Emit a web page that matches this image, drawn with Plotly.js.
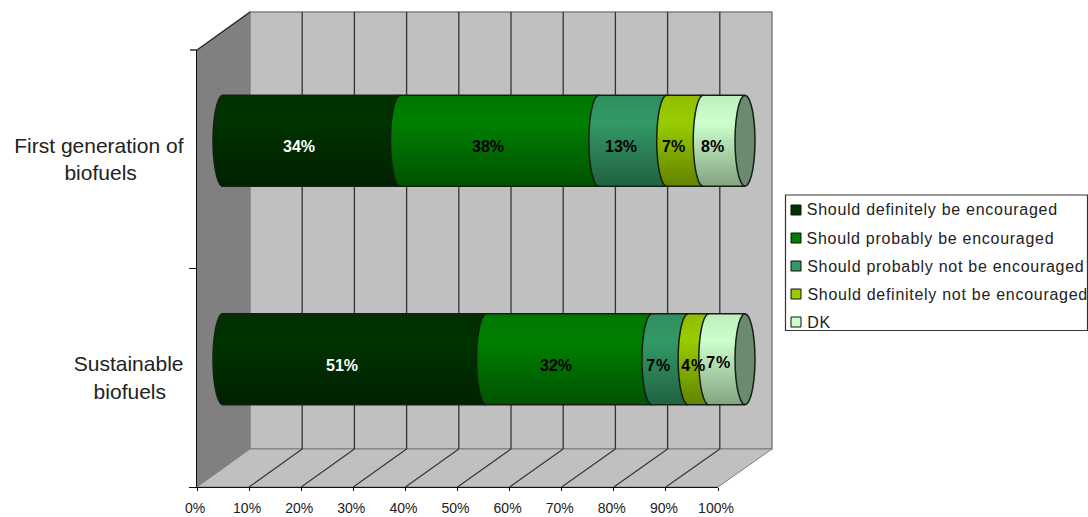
<!DOCTYPE html>
<html>
<head>
<meta charset="utf-8">
<script src="https://cdn.plot.ly/plotly-3.0.1.min.js"></script>
<style>
html,body{margin:0;padding:0;background:#fff}
/* Legend entries follow the ten value labels and are set slightly wider */
g.annotation:nth-child(n+11) text{letter-spacing:.72px}
</style>
</head>
<body>
<div id="chart" style="width:1088px;height:517px"></div>
<script>
// Survey answers per category, in percent as printed on the bars
const categories = ['First generation of', 'Sustainable'];
const seriesNames = [
  'Should definitely be encouraged',
  'Should probably be encouraged',
  'Should probably not be encouraged',
  'Should definitely not be encouraged',
  'DK'
];
const definitelyEncouraged = [34, 51];
const probablyEncouraged = [38, 32];
const probablyNotEncouraged = [13, 7];
const definitelyNotEncouraged = [7, 4];
const dontKnow = [8, 7];
const seriesColors = ['#003300', '#008000', '#339966', '#99cc00', '#ccffcc'];
const labelColors = ['#ffffff', '#000000', '#000000', '#000000', '#000000'];
const axisTicks = [0, 10, 20, 30, 40, 50, 60, 70, 80, 90, 100];

// Label nudges in pixels, one per row and series
const labelShiftX = [[-13, -12, -12, -11, -12], [-13, -13, -12, -5, -8]];
const labelShiftY = [[-6, -6, -6, -6, -6], [-6, -6, -6, -6, -3]];

const W = 1088, H = 517;
const fx = px => px / W;
const fy = px => 1 - px / H;

// Scene geometry of the box: front plane, back wall and the mid plane holding the bars
const front = {x0: 197, x1: 718, y0: 50, y1: 487};
const back = {x0: 250, x1: 772, y0: 12, y1: 449};
const mid = {zero: 223, unit: 5.22, y0: 31.5, y1: 468.5, left: 200, right: 775};
const capA = 10 / mid.unit;                 // ellipse half-width, in percent units
const rowUnit = (mid.y1 - mid.y0) / 2;      // pixels per row
const capB = 45.5 / rowUnit;                // ellipse half-height, in row units
const stripCount = 46;

const rows = [
  [definitelyEncouraged[0], probablyEncouraged[0], probablyNotEncouraged[0], definitelyNotEncouraged[0], dontKnow[0]],
  [definitelyEncouraged[1], probablyEncouraged[1], probablyNotEncouraged[1], definitelyNotEncouraged[1], dontKnow[1]]
];

// Normalised share and running total for each row
const shares = rows.map(r => {
  const sum = r.reduce((a, b) => a + b, 0);
  return r.map(v => v / sum * 100);
});
const starts = shares.map(r => {
  let c = 0;
  return r.map(v => { const s = c; c += v; return s; });
});

// Vertical shading of the cylinder: t runs 0 (top) to 1 (bottom)
function shade(hex, t) {
  const f = t < 0.3 ? 0.93 + 0.07 * t / 0.3 : 1 - 0.36 * (t - 0.3) / 0.7;
  const n = parseInt(hex.slice(1), 16);
  const c = [n >> 16, (n >> 8) & 255, n & 255].map(v => Math.round(v * f));
  return `rgb(${c[0]},${c[1]},${c[2]})`;
}

// Each series is a stack of thin horizontal strips whose ends follow the ellipse
const traces = [{
  type: 'bar', orientation: 'h', xaxis: 'x', yaxis: 'y',
  x: [0, 0], y: categories, marker: {color: 'rgba(0,0,0,0)'},
  hoverinfo: 'skip', showlegend: false
}];
seriesNames.forEach((name, s) => {
  const xs = [], ys = [], bases = [], colors = [];
  rows.forEach((_, r) => {
    for (let j = 0; j < stripCount; j++) {
      const t = (j + 0.5) / stripCount;
      const u = 2 * t - 1;
      const bulge = capA * Math.sqrt(1 - u * u);
      xs.push(shares[r][s]);
      bases.push(starts[r][s] - bulge);
      ys.push(r + 0.5 + u * capB);
      colors.push(shade(seriesColors[s], t));
    }
  });
  traces.push({
    type: 'bar', orientation: 'h', name, xaxis: 'x2', yaxis: 'y2',
    x: xs, y: ys, base: bases,
    width: 2.6 * capB / stripCount,
    marker: {color: colors, line: {width: 0}},
    hoverinfo: 'skip', showlegend: false
  });
});

const poly = pts => 'M' + pts.map(p => fx(p[0]) + ',' + fy(p[1])).join('L') + 'Z';
const seg = (a, b, color, width) => ({
  type: 'line', xref: 'paper', yref: 'paper', layer: 'below',
  x0: fx(a[0]), y0: fy(a[1]), x1: fx(b[0]), y1: fy(b[1]),
  line: {color, width: width || 1.3}
});

const shapes = [
  // Side wall, back wall and floor
  {type: 'path', xref: 'paper', yref: 'paper', layer: 'below', fillcolor: '#808080', line: {width: 0},
   path: poly([[front.x0, front.y0], [back.x0, back.y0], [back.x0, back.y1], [front.x0, front.y1]])},
  {type: 'path', xref: 'paper', yref: 'paper', layer: 'below', fillcolor: '#c0c0c0', line: {color: '#808080', width: 1.5},
   path: poly([[back.x0, back.y0], [back.x1, back.y0], [back.x1, back.y1], [back.x0, back.y1]])},
  {type: 'path', xref: 'paper', yref: 'paper', layer: 'below', fillcolor: '#c0c0c0', line: {color: '#808080', width: 1},
   path: poly([[front.x0, front.y1], [back.x0, back.y1], [back.x1, back.y1], [front.x1, front.y1]])},
  seg([front.x0, front.y0], [back.x0, back.y0], '#222222'),
  // Top tick of the category axis
  seg([front.x0 - 7, front.y0], [front.x0, front.y0], '#111111')
];

// Gridlines on the back wall and their continuation across the floor
axisTicks.forEach(v => {
  const bx = back.x0 + (back.x1 - back.x0) * v / 100;
  const fxp = front.x0 + (front.x1 - front.x0) * v / 100;
  if (v > 0 && v < 100) {
    shapes.push(seg([bx, back.y0], [bx, back.y1], '#333333'));
    shapes.push(seg([fxp, front.y1], [bx, back.y1], '#333333', 1.1));
  }
});

// Ellipse outline helper, working in the bars' own axis units
function arc(cx, row, from, to) {
  const pts = [];
  for (let i = 0; i <= 28; i++) {
    const a = from + (to - from) * i / 28;
    pts.push((cx + capA * Math.cos(a)) + ',' + (row + capB * Math.sin(a)));
  }
  return 'M' + pts.join('L');
}
const edge = '#142014';
rows.forEach((_, r) => {
  const row = r + 0.5;
  // Silhouette lines along the cylinder
  shapes.push({type: 'line', xref: 'x2', yref: 'y2', layer: 'above', x0: 0, x1: 100, y0: row - capB, y1: row - capB, line: {color: edge, width: 1.5}});
  shapes.push({type: 'line', xref: 'x2', yref: 'y2', layer: 'above', x0: 0, x1: 100, y0: row + capB, y1: row + capB, line: {color: edge, width: 1.5}});
  // Curved joints between the segments, plus the open end on the left
  starts[r].forEach(st => {
    shapes.push({type: 'path', xref: 'x2', yref: 'y2', layer: 'above', path: arc(st, row, Math.PI / 2, 3 * Math.PI / 2), line: {color: edge, width: 1.5}});
  });
  // Closed end cap on the right
  shapes.push({type: 'path', xref: 'x2', yref: 'y2', layer: 'above', path: arc(100, row, 0, 2 * Math.PI) + 'Z', fillcolor: '#6b8a6e', line: {color: edge, width: 1.5}});
});

// Value labels on the segments
const annotations = [];
rows.forEach((r, ri) => {
  r.forEach((v, s) => {
    annotations.push({
      xref: 'x2', yref: 'y2', x: starts[ri][s] + shares[ri][s] / 2, y: ri + 0.5,
      xshift: labelShiftX[ri][s], yshift: labelShiftY[ri][s],
      text: v + '%', showarrow: false,
      font: {family: '"Liberation Sans", Arial, sans-serif', size: 16, color: labelColors[s], weight: 700}
    });
  });
});

// Legend box with square keys; the letter spacing grows each entry around its centre,
// so the shift below puts the first letter back on the text edge
const legend = {x0: 785.5, x1: 1087.5, y0: 195, y1: 330.5, keyX: 791, textX: 805, firstY: 210, stepY: 28, spacing: 0.72};
shapes.push({type: 'rect', xref: 'paper', yref: 'paper', layer: 'below',
  x0: fx(legend.x0), x1: fx(legend.x1), y0: fy(legend.y0), y1: fy(legend.y1),
  fillcolor: '#ffffff', line: {color: '#333333', width: 1.2}});
seriesNames.forEach((name, s) => {
  const cy = legend.firstY + legend.stepY * s;
  shapes.push({type: 'rect', xref: 'paper', yref: 'paper', layer: 'below',
    x0: fx(legend.keyX), x1: fx(legend.keyX + 10), y0: fy(cy - 5), y1: fy(cy + 5),
    fillcolor: seriesColors[s], line: {color: '#111111', width: 1}});
  annotations.push({
    xref: 'paper', yref: 'paper', x: fx(legend.textX), y: fy(cy), xanchor: 'left', yanchor: 'middle',
    xshift: legend.spacing * name.length / 2,
    text: name, showarrow: false,
    font: {family: '"Liberation Sans", Arial, sans-serif', size: 16, color: '#222222'}
  });
});

const nb = n => '\u00a0'.repeat(n);
const layout = {
  width: W, height: H, autosize: false,
  margin: {l: 0, r: 0, t: 0, b: 0, pad: 0},
  paper_bgcolor: '#ffffff', plot_bgcolor: 'rgba(0,0,0,0)',
  barmode: 'overlay', showlegend: false, bargap: 0,
  font: {family: '"Liberation Sans", Arial, sans-serif', color: '#222222'},
  xaxis: {
    domain: [fx(front.x0), fx(front.x1)], range: [0, 100], anchor: 'y',
    tickmode: 'array', tickvals: axisTicks, ticktext: axisTicks.map(v => v + '%'),
    showgrid: false, zeroline: false, showline: true, linecolor: '#111111', linewidth: 1.3,
    ticks: 'outside', ticklen: 3, tickcolor: '#111111', tickfont: {size: 14, color: '#222222'},
    ticklabelstandoff: 5, ticklabelshift: -2
  },
  yaxis: {
    domain: [fy(front.y1), fy(front.y0)], anchor: 'x', type: 'category',
    categoryorder: 'array', categoryarray: categories.slice().reverse(),
    tickmode: 'array', tickvals: categories,
    ticktext: ['First generation of<br>biofuels' + nb(8), 'Sustainable<br>biofuels' + nb(3)],
    tickson: 'boundaries', showgrid: false, zeroline: false,
    showline: true, linecolor: '#111111', linewidth: 1.3,
    ticks: 'outside', ticklen: 7, tickcolor: '#111111', tickfont: {size: 21, color: '#222222'},
    ticklabelstandoff: 8
  },
  xaxis2: {
    domain: [fx(mid.left), fx(mid.right)], anchor: 'y2', visible: false,
    range: [(mid.left - mid.zero) / mid.unit, (mid.right - mid.zero) / mid.unit]
  },
  yaxis2: {
    domain: [fy(mid.y1), fy(mid.y0)], anchor: 'x2', visible: false, range: [2, 0]
  },
  shapes, annotations
};

Plotly.newPlot('chart', traces, layout, {displayModeBar: false, staticPlot: true});
</script>
</body>
</html>
